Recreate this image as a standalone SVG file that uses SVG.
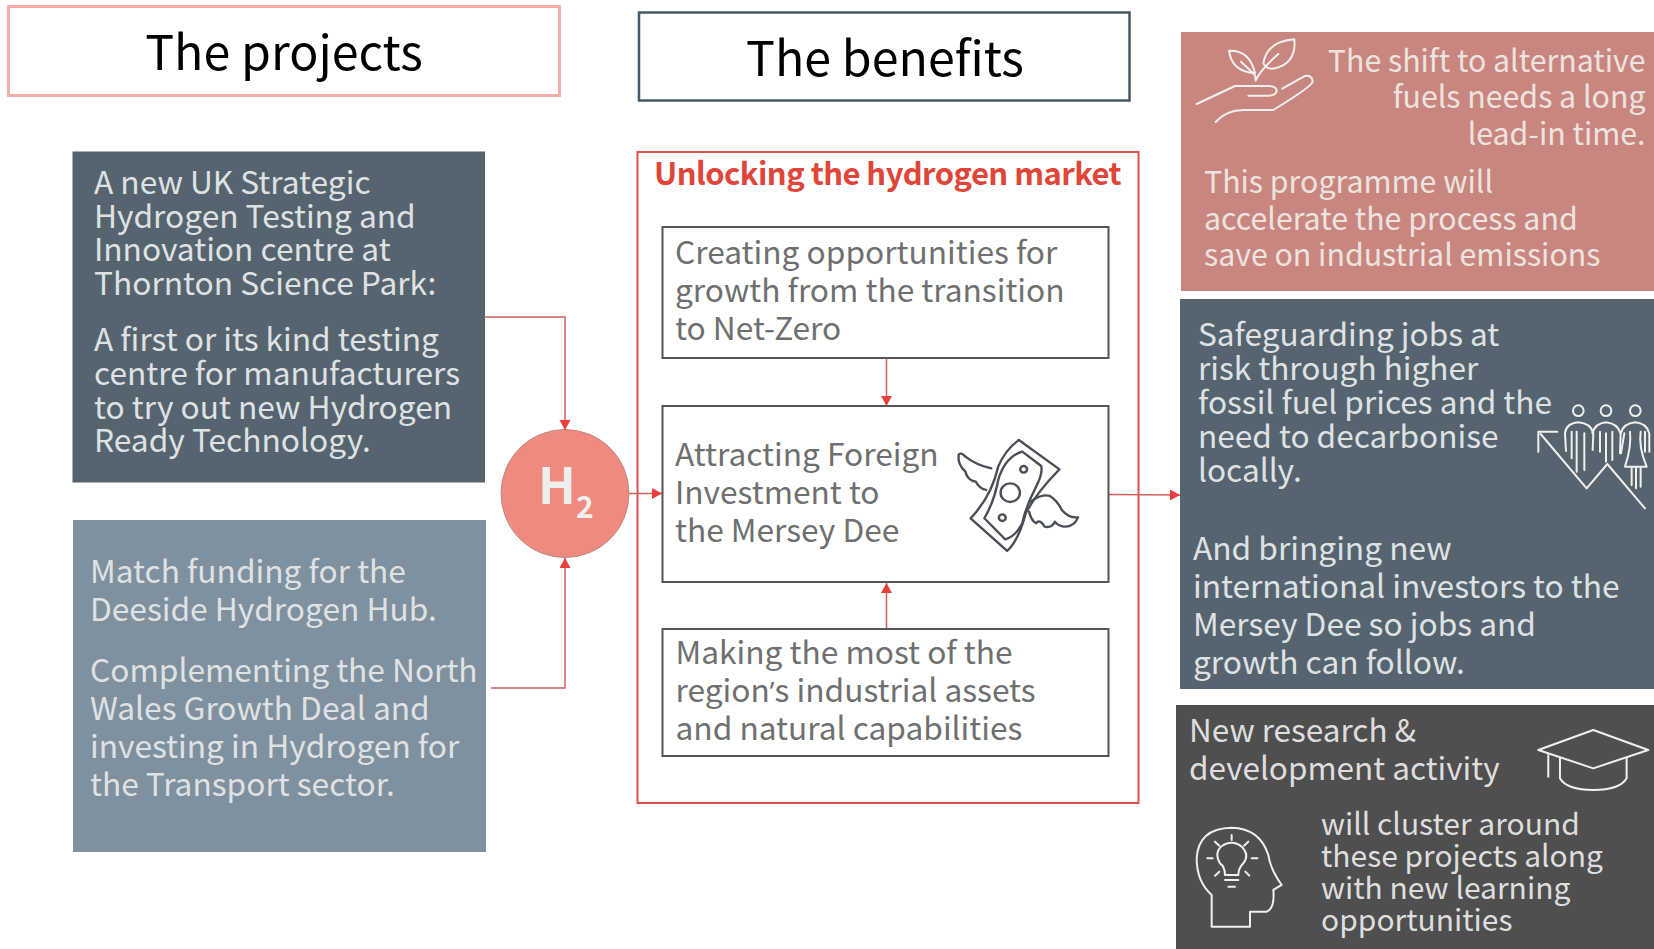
<svg xmlns="http://www.w3.org/2000/svg" width="1654" height="949" viewBox="0 0 1654 949">
<defs>
<marker id="ah" markerUnits="userSpaceOnUse" markerWidth="12" markerHeight="12" refX="10" refY="5.500" orient="auto"><path d="M0,0L10,5.500L0,11Z" fill="#e8403a"/></marker>
</defs>
<style>
text{font-family:"Noto Sans CJK SC","Source Sans Pro","Open Sans",sans-serif}
.lt{fill:#dfe2e4;font-size:31.700px}
.p1{fill:#ece4df;font-size:30.300px}
.p2{fill:#dfe2e4;font-size:31.600px}
.p3{fill:#dedede;font-size:31.500px}
.p4{fill:#dedede;font-size:30px}
.gr{fill:#6f6f6f;font-size:31.700px}
.ttl{fill:#000;font-size:48.300px;text-anchor:middle}
.lk{fill:none;stroke:#d0605c;stroke-width:1.500}
.bx{fill:#fff;stroke:#555;stroke-width:2}
.ic{fill:none;stroke:#f0f0ee;stroke-width:6;stroke-linecap:round;stroke-linejoin:round}
.ic2{fill:none;stroke:#4a4f57;stroke-width:7;stroke-linecap:round;stroke-linejoin:round}
.ap{font-family:"Open Sans",sans-serif}
</style>
<rect width="1654" height="949" fill="#fff"/>
<g id="title-projects"><rect x="8.500" y="6.500" width="551" height="89" fill="#fff" stroke="#f7aea8" stroke-width="3"/><text class="ttl" x="284" y="69.500">The projects</text></g>
<g id="title-benefits"><rect x="639" y="12.500" width="490.500" height="88" fill="#fff" stroke="#465866" stroke-width="2.500"/><text class="ttl" x="885" y="76">The benefits</text></g>
<g id="project-1"><rect x="72.500" y="151.500" width="412.500" height="331" fill="#56646f"/>
<text class="lt" x="94" y="194">A new UK Strategic</text><text class="lt" x="94" y="228">Hydrogen Testing and</text><text class="lt" x="94" y="261">Innovation centre at</text><text class="lt" x="94" y="295">Thornton Science Park:</text><text class="lt" x="94" y="351">A first or its kind testing</text><text class="lt" x="94" y="385">centre for manufacturers</text><text class="lt" x="94" y="419">to try out new Hydrogen</text><text class="lt" x="94" y="452">Ready Technology.</text></g>
<g id="project-2"><rect x="73" y="520" width="413" height="332" fill="#7f909e"/>
<text class="lt" x="90" y="583">Match funding for the</text><text class="lt" x="90" y="621">Deeside Hydrogen Hub.</text><text class="lt" x="90" y="682">Complementing the North</text><text class="lt" x="90" y="720">Wales Growth Deal and</text><text class="lt" x="90" y="758">investing in Hydrogen for</text><text class="lt" x="90" y="796">the Transport sector.</text></g>
<g id="market-frame"><rect x="637.500" y="152" width="501" height="651" fill="#fff" stroke="#d9534a" stroke-width="2"/><text x="654" y="185" font-size="31" font-weight="700" letter-spacing="-.55" fill="#e0453a">Unlocking the hydrogen market</text></g>
<g id="h2"><circle cx="565" cy="493.500" r="64" fill="#f08a7e" stroke="#b98a84"/><text x="538" y="504" font-size="50" font-weight="700" fill="#eeeeec">H</text><text x="576" y="518" font-size="30" font-weight="700" fill="#eeeeec">2</text></g>
<g id="connectors">
<path class="lk" d="M485,317H565V430" marker-end="url(#ah)"/>
<path class="lk" d="M491,688H565V558" marker-end="url(#ah)"/>
<path class="lk" d="M629,493.500H662" marker-end="url(#ah)"/>
<path class="lk" d="M886.500,358V406" marker-end="url(#ah)"/>
<path class="lk" d="M886.500,629V583" marker-end="url(#ah)"/>
<path class="lk" d="M1109,494.500L1180,495" marker-end="url(#ah)"/>
</g>
<g id="box-opportunities"><rect class="bx" x="662.500" y="227" width="446" height="131"/><text class="gr" x="675" y="264">Creating opportunities for</text><text class="gr" x="675" y="302">growth from the transition</text><text class="gr" x="675" y="340">to Net-Zero</text></g>
<g id="box-investment"><rect class="bx" x="662.500" y="406" width="446" height="176"/><text class="gr" x="675" y="466">Attracting Foreign</text><text class="gr" x="675" y="504">Investment to</text><text class="gr" x="675" y="542">the Mersey Dee</text>
<g transform="translate(640,340) scale(.3444,.3333)" class="ic2"><path d="M1100,300L1218,388Q1150,460 1120,520Q1100,600 1066,633L960,535Q1020,470 1040,380Q1060,330 1100,300Z"/><path d="M1110,335L1165,378Q1170,400 1150,440Q1120,500 1110,550Q1090,590 1060,598L1000,535Q1030,480 1040,420Q1060,350 1110,335Z"/><circle cx="1075" cy="458" r="28"/><circle cx="1114" cy="388" r="10"/><circle cx="1052" cy="533" r="10"/><path d="M1020,385Q975,375 945,350Q930,335 925,345Q922,375 945,395Q950,420 975,425Q985,445 1005,450"/><path d="M1135,485Q1165,460 1190,468Q1210,480 1225,510Q1245,535 1272,532Q1260,562 1230,560Q1210,555 1205,545Q1195,565 1175,560Q1160,535 1150,550Q1135,540 1130,515"/></g></g>
<g id="box-assets"><rect class="bx" x="662.500" y="629" width="446" height="127"/><text class="gr" x="675.500" y="664">Making the most of the</text><text class="gr" x="675.500" y="702">region<tspan class="ap" font-size="28">’</tspan>s industrial assets</text><text class="gr" x="675.500" y="740">and natural capabilities</text></g>
<g id="benefit-fuels"><rect x="1181" y="32" width="473" height="259" fill="#c98680"/>
<g transform="translate(1185,30) scale(.3333)" class="ic"><path d="M35,222L150,168H255Q275,170 275,183Q272,197 250,197H190"/><path d="M292,176L360,138Q382,135 383,155Q380,170 265,240H175Q125,240 92,276"/><path d="M132,62Q195,60 210,130Q140,125 132,62Z"/><path d="M328,28Q335,100 270,115Q245,120 235,100Q245,35 328,28Z"/><path d="M168,95L205,130Q212,135 212,152Q225,120 280,72"/></g>
<g text-anchor="end"><text class="p1" x="1645.500" y="72">The shift to alternative</text><text class="p1" x="1645.500" y="108">fuels needs a long</text><text class="p1" x="1645.500" y="145">lead-in time.</text></g>
<text class="p1" x="1204" y="193">This programme will</text><text class="p1" x="1204" y="230">accelerate the process and</text><text class="p1" x="1204" y="266">save on industrial emissions</text></g>
<g id="benefit-jobs"><rect x="1180" y="299" width="474" height="390" fill="#56646f"/>
<text class="p2" x="1198" y="346">Safeguarding jobs at</text><text class="p2" x="1198" y="380">risk through higher</text><text class="p2" x="1198" y="414">fossil fuel prices and the</text><text class="p2" x="1198" y="448">need to decarbonise</text><text class="p2" x="1198" y="482">locally.</text>
<text class="lt" x="1193" y="560">And bringing new</text><text class="lt" x="1193" y="598">international investors to the</text><text class="lt" x="1193" y="636">Mersey Dee so jobs and</text><text class="lt" x="1193" y="674">growth can follow.</text>
<g transform="translate(1530,390) scale(.3333)" class="ic"><circle cx="145" cy="62" r="16"/><circle cx="228" cy="62" r="16"/><circle cx="316" cy="62" r="16"/><path d="M345,355L232,222L170,295L32,132M25,185V125H82"/><path d="M108,183L105,130Q108,100 145,97Q183,100 190,130L188,180M125,125V205M140,125V245M163,130V240"/><path d="M187,130Q195,100 228,97Q262,100 272,130L270,190M210,125V185M228,130V215M247,125V210"/><path d="M272,130Q280,100 316,97Q350,100 358,130L358,185M283,130L273,190M345,125V185M300,125Q305,170 285,230H350Q325,170 332,125M305,230V285M318,230V295M332,230V290"/></g></g>
<g id="benefit-research"><rect x="1176" y="705" width="478" height="244" fill="#4f4f4f"/>
<text class="p3" x="1189" y="742">New research &amp;</text><text class="p3" x="1189" y="780">development activity</text>
<text class="p4" x="1321" y="835">will cluster around</text><text class="p4" x="1321" y="867">these projects along</text><text class="p4" x="1321" y="899">with new learning</text><text class="p4" x="1321" y="931">opportunities</text>
<g transform="translate(1170,695) scale(.3333)" class="ic"><path d="M1105,165L1270,105L1435,165L1270,220Z"/><path d="M1170,190V250Q1190,285 1270,285Q1350,285 1370,250V190M1135,180V245"/><path d="M125,695V600Q80,560 80,490Q85,400 185,398Q270,400 295,480Q300,520 335,570L310,585Q315,640 290,650L240,650V695Z"/><path d="M165,540Q165,515 150,505Q130,470 160,450Q190,435 215,455Q240,480 220,505Q205,520 205,540ZM165,555H205M175,575H195M185,420V435M135,440L148,452M235,440L222,452M112,490H128M245,490H262M135,542L148,530M238,542L226,530"/></g></g>
</svg>
